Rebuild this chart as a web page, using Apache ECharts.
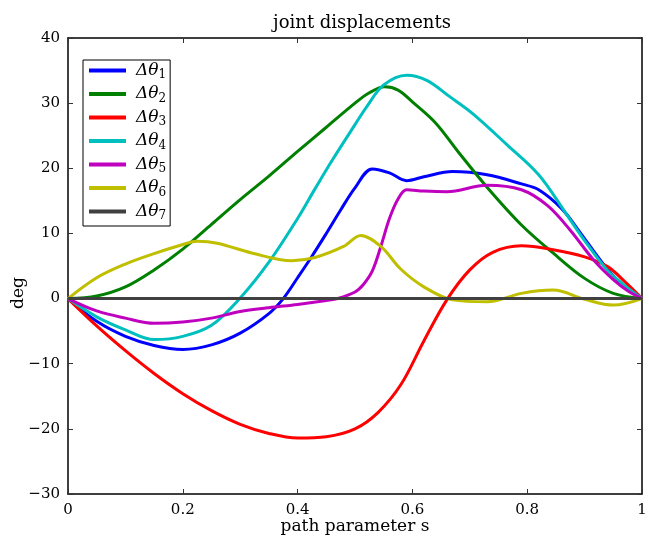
<!DOCTYPE html>
<html>
<head>
<meta charset="utf-8">
<script src="https://cdn.jsdelivr.net/npm/echarts@6/dist/echarts.min.js"></script>
<style>
  html, body { margin: 0; padding: 0; background: #fff; }
  #chart { width: 649px; height: 546px; }
</style>
</head>
<body>
<div id="chart"></div>
<script>
var names = ['1', '2', '3', '4', '5', '6', '7'];
var colors = ['#0000ff', '#008000', '#ff0000', '#00bfbf', '#bf00bf', '#bfbf00', '#404040'];

// path parameter s / joint displacement (deg), per joint
var s1 = [0, 0.05, 0.1, 0.15, 0.2, 0.25, 0.3, 0.35, 0.375, 0.4, 0.425, 0.45, 0.475, 0.5, 0.53, 0.56, 0.59, 0.62, 0.67, 0.73, 0.79, 0.82, 0.86, 0.89, 0.93, 0.96, 1];
var theta1 = [0, -3.5, -5.8, -7.2, -7.8, -7.1, -5.3, -2.3, 0, 3.2, 6.5, 10.0, 13.6, 17.0, 19.9, 19.3, 18.1, 18.7, 19.5, 19.0, 17.6, 16.7, 13.8, 10.4, 5.6, 2.6, 0];

var s2 = [0, 0.05, 0.1, 0.15, 0.2, 0.25, 0.3, 0.35, 0.4, 0.45, 0.5, 0.525, 0.552, 0.575, 0.6, 0.64, 0.68, 0.73, 0.79, 0.845, 0.9, 0.95, 1];
var theta2 = [0, 0.4, 1.8, 4.4, 7.6, 11.4, 15.2, 18.8, 22.6, 26.3, 30.0, 31.6, 32.5, 32.0, 30.2, 27.0, 22.5, 17.1, 11.3, 7.0, 3.1, 0.8, 0];

var s3 = [0, 0.05, 0.1, 0.15, 0.2, 0.25, 0.3, 0.35, 0.4, 0.45, 0.5, 0.54, 0.58, 0.62, 0.66, 0.7, 0.74, 0.79, 0.845, 0.9, 0.94, 0.97, 1];
var theta3 = [0, -4.2, -8.0, -11.5, -14.6, -17.2, -19.3, -20.7, -21.4, -21.2, -20.0, -17.5, -13.2, -6.5, -0.2, 4.4, 7.1, 8.1, 7.5, 6.4, 4.9, 2.6, 0];

var s4 = [0, 0.05, 0.1, 0.15, 0.2, 0.25, 0.3, 0.35, 0.4, 0.43, 0.46, 0.5, 0.52, 0.55, 0.59, 0.625, 0.665, 0.705, 0.765, 0.82, 0.865, 0.9, 0.94, 0.97, 1];
var theta4 = [0, -2.8, -4.8, -6.3, -5.8, -4.1, 0.1, 5.6, 12.3, 16.8, 21.2, 26.7, 29.4, 32.8, 34.3, 33.5, 31, 28.4, 23.6, 19, 13.4, 8.9, 4.3, 2.0, 0];

var s5 = [0, 0.05, 0.1, 0.15, 0.2, 0.25, 0.3, 0.35, 0.4, 0.45, 0.47, 0.5, 0.515, 0.53, 0.545, 0.56, 0.575, 0.59, 0.62, 0.66, 0.73, 0.79, 0.835, 0.875, 0.915, 0.95, 0.975, 1];
var theta5 = [0, -1.9, -3.0, -3.8, -3.6, -3.0, -2.0, -1.4, -0.9, -0.3, 0, 1.0, 2.2, 4.2, 8.0, 12.3, 15.3, 16.7, 16.5, 16.4, 17.4, 16.7, 14.3, 10.5, 6.0, 2.9, 1.2, 0];

var s6 = [0, 0.05, 0.1, 0.15, 0.2, 0.225, 0.26, 0.32, 0.39, 0.43, 0.48, 0.51, 0.545, 0.58, 0.62, 0.67, 0.73, 0.79, 0.845, 0.9, 0.95, 1];
var theta6 = [0, 3.2, 5.3, 6.9, 8.3, 8.8, 8.5, 7.0, 5.8, 6.3, 8.0, 9.7, 8.0, 4.5, 1.8, -0.2, -0.5, 0.8, 1.3, -0.1, -1.0, 0];

var s7 = [0, 1];
var theta7 = [0, 0];

var xs = [s1, s2, s3, s4, s5, s6, s7];
var ys = [theta1, theta2, theta3, theta4, theta5, theta6, theta7];

var font = 'DejaVu Serif';

function pairs(x, y) {
    var out = [];
    for (var i = 0; i < x.length; i++) out.push([x[i], y[i]]);
    return out;
}

var series = [];
for (var k = 0; k < names.length; k++) {
    series.push({
        name: names[k],
        type: 'line',
        xAxisIndex: 0,
        yAxisIndex: 0,
        data: pairs(xs[k], ys[k]),
        smooth: 0.35,
        showSymbol: false,
        symbol: 'none',
        lineStyle: { width: 3, color: colors[k] },
        itemStyle: { color: colors[k] }
    });
}

var axisCommon = {
    nameMoveOverlap: false,
    axisLine: { onZero: false, lineStyle: { color: '#000', width: 1.5 } },
    axisTick: { inside: true, length: 5, lineStyle: { color: '#333', width: 1 } },
    splitLine: { show: false }
};

var chart = echarts.init(document.getElementById('chart'));
chart.setOption({
    animation: false,
    backgroundColor: '#fff',
    title: {
        text: 'joint displacements',
        left: 357,
        top: 9,
        textAlign: 'center',
        textStyle: { fontFamily: font, fontWeight: 'normal', fontSize: 18, color: '#000' }
    },
    grid: { left: 68, right: 7, top: 38, bottom: 52, outerBoundsMode: 'none' },
    legend: {
        orient: 'vertical',
        left: 83,
        top: 60,
        padding: [2, 4, 4, 6],
        itemGap: 4.5,
        itemWidth: 37,
        itemHeight: 4,
        icon: 'rect',
        borderColor: '#000',
        borderWidth: 1,
        borderRadius: 0,
        backgroundColor: '#fff',
        data: names,
        formatter: function (n) { return '{a|Δθ}{s|' + n + '}'; },
        textStyle: {
            rich: {
                a: { fontFamily: font, fontStyle: 'italic', fontSize: 17, color: '#000', height: 20, padding: [0, 0, 0, 5] },
                s: { fontFamily: font, fontSize: 12, color: '#000', padding: [9, 0, 0, 0] }
            }
        }
    },
    xAxis: [
        Object.assign({
            type: 'value', min: 0, max: 1, interval: 0.2, position: 'bottom',
            name: 'path parameter s', nameLocation: 'middle', nameGap: 24,
            nameTextStyle: { fontFamily: font, fontSize: 17, color: '#000', verticalAlign: 'top' },
            axisLabel: { fontFamily: font, fontSize: 15, color: '#000', margin: 9 }
        }, axisCommon),
        Object.assign({
            type: 'value', min: 0, max: 1, interval: 0.2, position: 'top',
            axisLabel: { show: false }
        }, axisCommon)
    ],
    yAxis: [
        Object.assign({
            type: 'value', min: -30, max: 40, interval: 10, position: 'left',
            name: 'deg', nameLocation: 'middle', nameGap: 41, nameRotate: 90,
            nameTextStyle: { fontFamily: font, fontSize: 17, color: '#000', padding: [0, 54, 0, 0] },
            axisLabel: {
                fontFamily: font, fontSize: 15, color: '#000', margin: 8,
                formatter: function (v) { return String(v).replace('-', '\u2212'); }
            }
        }, axisCommon),
        Object.assign({
            type: 'value', min: -30, max: 40, interval: 10, position: 'right',
            axisLabel: { show: false }
        }, axisCommon)
    ],
    series: series
});
</script>
</body>
</html>
